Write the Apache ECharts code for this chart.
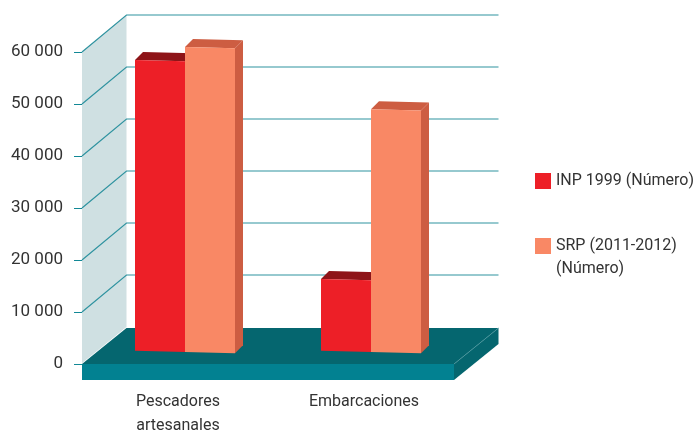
<!DOCTYPE html>
<html><head><meta charset="utf-8">
<style>html,body{margin:0;padding:0;background:#fff}#c{width:694px;height:431px}</style>
<script src="https://cdn.jsdelivr.net/npm/echarts@6/dist/echarts.min.js"></script>
</head><body><div id="c"></div>
<script>
const categories = ['Pescadores\nartesanales', 'Embarcaciones'];
const inp1999 = [55900, 13800];
const srp = [58650, 46700];
const yTicks = [0, 10000, 20000, 30000, 40000, 50000, 60000];
const seriesNames = ['INP 1999 (Número)', 'SRP (2011-2012)\n(Número)'];

const FONT = 'Roboto,"Liberation Sans",sans-serif';
const TEXT = '#333333';
const WALL_DX = 44.5, WALL_DY = -37;      // projection of the back wall
const SLAB = 16;                          // thickness of the floor slab
const BAR_W = 50, BAR_DX = 10, BAR_DY = -12, DEPTH = 8, SKEW = 0.026;

const chart = echarts.init(document.getElementById('c'), null, {renderer: 'canvas'});

function barSeries(name, values, isLeft, front, top, side) {
  return {
    name, type: 'custom', coordinateSystem: 'cartesian2d', z: 5,
    itemStyle: {color: front}, silent: true, clip: false,
    data: values.map((v, i) => [i, v]), encode: {x: 0, y: 1},
    renderItem(params, api) {
      const t = api.coord([api.value(0), api.value(1)]);
      const b = api.coord([api.value(0), 0]);
      const c = t[0] + BAR_DX;
      const x0 = isLeft ? c - BAR_W : c, x1 = isLeft ? c : c + BAR_W;
      const yt = x => t[1] + BAR_DY + SKEW * (x - c);
      const yb = x => b[1] + BAR_DY + SKEW * (x - c);
      const poly = (pts, fill) => ({type: 'polygon', shape: {points: pts}, style: {fill}});
      const kids = [
        poly([[x0, yt(x0)], [x0 + DEPTH, yt(x0) - DEPTH], [x1 + DEPTH, yt(x1) - DEPTH], [x1, yt(x1)]], top),
        poly([[x1, yt(x1)], [x1 + DEPTH, yt(x1) - DEPTH], [x1 + DEPTH, yb(x1) - DEPTH], [x1, yb(x1)]], side),
        poly([[x0, yt(x0)], [x1, yt(x1)], [x1, yb(x1)], [x0, yb(x0)]], front)
      ];
      return {type: 'group', children: kids};
    }
  };
}

const option = {
  animation: false,
  backgroundColor: '#ffffff',
  grid: {left: 82, top: 52, width: 372, height: 312, containLabel: false, outerBoundsMode: 'none'},
  legend: [
    {data: [seriesNames[0]], left: 535, top: 169.5, icon: 'rect', itemWidth: 16, itemHeight: 16, itemGap: 0,
     selectedMode: false, padding: 0, textStyle: {fontFamily: FONT, fontSize: 16, color: TEXT, lineHeight: 23}},
    {data: [seriesNames[1]], left: 535, top: 211.5, icon: 'rect', itemWidth: 16, itemHeight: 16, itemGap: 0,
     selectedMode: false, formatter: n => '\n' + n, padding: 0,
     textStyle: {fontFamily: FONT, fontSize: 16, color: TEXT, lineHeight: 23}}
  ],
  xAxis: {
    type: 'category', data: categories,
    axisLine: {show: false}, axisTick: {show: false},
    axisLabel: {fontFamily: FONT, fontSize: 16, color: TEXT, lineHeight: 24, margin: 26, padding: [0, 0, 0, 6], interval: 0}
  },
  yAxis: {
    type: 'value', min: 0, max: 60000, interval: 10000,
    axisLine: {show: false},
    axisTick: {show: true, length: 8, lineStyle: {color: '#128896', width: 1}},
    splitLine: {show: false},
    axisLabel: {fontFamily: FONT, fontSize: 17, color: TEXT, margin: 19, padding: [2, 0, 0, 0],
      formatter: v => String(v).replace(/\B(?=(\d{3})+$)/g, ' ')}
  },
  series: [
    {
      name: 'wall', type: 'custom', coordinateSystem: 'cartesian2d', z: 1, silent: true, clip: false,
      data: [[0, yTicks[0]]], encode: {x: 0, y: 1},
      renderItem(params, api) {
        const bottom = api.coord([0, yTicks[0]])[1], top = api.coord([0, yTicks[yTicks.length - 1]])[1];
        const size = api.size([1, 0])[0];
        const left = api.coord([0, 0])[0] - size / 2, right = left + size * categories.length;
        const kids = [{type: 'polygon', shape: {points: [[left, bottom], [left, top], [left + WALL_DX, top + WALL_DY], [left + WALL_DX, bottom + WALL_DY]]},
          style: {fill: '#cfe0e2'}}];
        yTicks.slice(1).forEach(t => {
          const y = api.coord([0, t])[1];
          kids.push({type: 'polyline', shape: {points: [[left, y], [left + WALL_DX, y + WALL_DY], [right + WALL_DX, y + WALL_DY]]},
            style: {fill: 'none', stroke: '#2f93a0', lineWidth: 1.2}});
        });
        return {type: 'group', children: kids};
      }
    },
    {
      name: 'floor', type: 'custom', coordinateSystem: 'cartesian2d', z: 3, silent: true, clip: false,
      data: [[0, yTicks[0]]], encode: {x: 0, y: 1},
      renderItem(params, api) {
        const y = api.coord([0, yTicks[0]])[1];
        const size = api.size([1, 0])[0];
        const l = api.coord([0, 0])[0] - size / 2, r = l + size * categories.length;
        const by = y + WALL_DY + 1;
        return {type: 'group', children: [
          {type: 'polyline', shape: {points: [[l, y], [l + WALL_DX, by]]}, style: {fill: 'none', stroke: '#ffffff', lineWidth: 1.5}},
          {type: 'polygon', shape: {points: [[l, y], [r, y], [r + WALL_DX, by], [l + WALL_DX, by]]}, style: {fill: '#05666f'}},
          {type: 'polygon', shape: {points: [[l, y], [r, y], [r, y + SLAB], [l, y + SLAB]]}, style: {fill: '#028191'}},
          {type: 'polygon', shape: {points: [[r, y], [r + WALL_DX, by], [r + WALL_DX, by + SLAB], [r, y + SLAB]]}, style: {fill: '#05666f'}},
          {type: 'polyline', shape: {points: [[r, y], [r + WALL_DX, by]]}, style: {fill: 'none', stroke: '#4f9aa0', lineWidth: 0.7}}
        ]};
      }
    },
    barSeries(seriesNames[0], inp1999, true, '#ed1f27', '#8e1418', '#8e1418'),
    barSeries(seriesNames[1], srp, false, '#f98865', '#cd5d42', '#cd5d42')
  ]
};
chart.setOption(option);
</script></body></html>
